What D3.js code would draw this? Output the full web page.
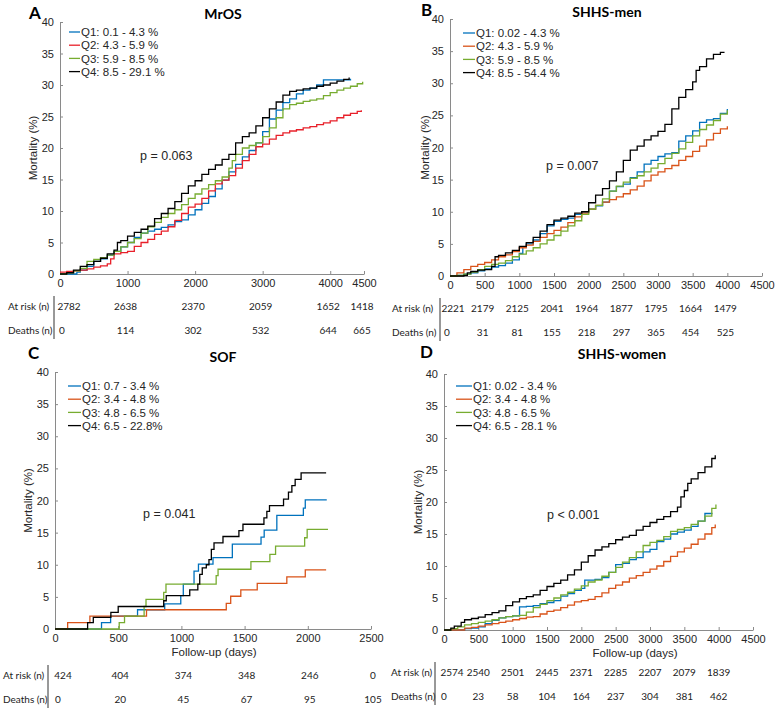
<!DOCTYPE html>
<html>
<head>
<meta charset="utf-8">
<script src="https://cdn.jsdelivr.net/npm/d3@7"></script>
<style>
  body { margin: 0; background: #fff; }
  svg { display: block; }
</style>
</head>
<body>
<svg id="chart" width="780" height="720"></svg>
<script>
// (Num, Num) -> String
const translate = (x, y) => "translate(" + x + "," + y + ")"

// ---- data ----
const letters  = ['A', 'B', 'C', 'D']
const titles   = ['MrOS', 'SHHS-men', 'SOF', 'SHHS-women']
const pValues  = ['p = 0.063', 'p = 0.007', 'p = 0.041', 'p < 0.001']

const legendMrOS      = ['Q1: 0.1 - 4.3 %', 'Q2: 4.3 - 5.9 %', 'Q3: 5.9 - 8.5 %', 'Q4: 8.5 - 29.1 %']
const legendShhsMen   = ['Q1: 0.02 - 4.3 %', 'Q2: 4.3 - 5.9 %', 'Q3: 5.9 - 8.5 %', 'Q4: 8.5 - 54.4 %']
const legendSOF       = ['Q1: 0.7 - 3.4 %', 'Q2: 3.4 - 4.8 %', 'Q3: 4.8 - 6.5 %', 'Q4: 6.5 - 22.8%']
const legendShhsWomen = ['Q1: 0.02 - 3.4 %', 'Q2: 3.4 - 4.8 %', 'Q3: 4.8 - 6.5 %', 'Q4: 6.5 - 28.1 %']

const yTicks      = [0, 5, 10, 15, 20, 25, 30, 35, 40]
const xTicksMrOS  = [0, 1000, 2000, 3000, 4000, 4500]
const xTicksShhs  = [0, 500, 1000, 1500, 2000, 2500, 3000, 3500, 4000, 4500]
const xTicksSOF   = [0, 500, 1000, 1500, 2000, 2500]

// at-risk tables
const tableTimesMrOS  = [0, 1000, 2000, 3000, 4000, 4500]
const tableTimesShhs  = [0, 500, 1000, 1500, 2000, 2500, 3000, 3500, 4000]
const tableTimesSOF   = [0, 500, 1000, 1500, 2000, 2500]
const atRiskMrOS      = [2782, 2638, 2370, 2059, 1652, 1418]
const deathsMrOS      = [0, 114, 302, 532, 644, 665]
const atRiskShhsMen   = [2221, 2179, 2125, 2041, 1964, 1877, 1795, 1664, 1479]
const deathsShhsMen   = [0, 31, 81, 155, 218, 297, 365, 454, 525]
const atRiskSOF       = [424, 404, 374, 348, 246, 0]
const deathsSOF       = [0, 20, 45, 67, 95, 105]
const atRiskShhsWomen = [2574, 2540, 2501, 2445, 2371, 2285, 2207, 2079, 1839]
const deathsShhsWomen = [0, 23, 58, 104, 164, 237, 304, 381, 462]

// cumulative mortality (%) curves: [day, percent]
const mrosQ1 = [[0,0],[200,0],[250,0.3],[300,0.6],[400,1.2],[500,2.0],[600,2.4],[700,3.0],[800,3.6],[900,4.3],[1000,5.0],[1100,5.8],[1200,6.5],[1300,6.8],[1400,7.1],[1500,7.4],[1600,7.8],[1700,8.3],[1800,8.6],[1900,9.4],[2000,10.2],[2100,11.2],[2200,12.3],[2300,13.5],[2400,14.9],[2500,16.2],[2600,17.4],[2700,18.6],[2800,19.6],[2900,20.8],[3000,22.6],[3100,24.6],[3200,26.0],[3300,27.2],[3400,27.8],[3500,28.6],[3600,29.2],[3700,29.5],[3800,30.0],[3900,30.8],[4000,30.8],[4100,30.8],[4200,30.8],[4300,31.0]]
const mrosQ2 = [[0,0.3],[100,0.4],[200,0.5],[300,0.6],[400,0.8],[500,1.1],[600,1.3],[700,1.6],[750,2.4],[800,3.2],[900,3.4],[1000,3.6],[1100,4.4],[1200,5.0],[1300,5.5],[1400,6.3],[1500,6.8],[1600,7.5],[1700,8.5],[1800,9.6],[1900,10.6],[2000,11.1],[2100,12.0],[2200,13.2],[2300,14.3],[2400,14.9],[2500,15.6],[2600,16.8],[2700,18.0],[2800,19.0],[2900,20.2],[3000,20.6],[3100,21.4],[3200,22.0],[3300,22.4],[3400,22.7],[3500,22.9],[3600,23.2],[3700,23.4],[3800,23.7],[3900,24.0],[4000,24.3],[4100,24.8],[4200,25.2],[4300,25.5],[4400,25.8],[4460,26.0]]
const mrosQ3 = [[0,0],[100,0.2],[200,0.5],[300,0.9],[400,2.0],[500,2.3],[600,2.6],[700,3.0],[800,3.6],[900,4.3],[1000,5.0],[1100,5.6],[1200,6.5],[1300,7.5],[1400,8.2],[1500,9.0],[1600,9.6],[1700,10.2],[1800,11.0],[1900,12.0],[2000,12.7],[2100,13.5],[2200,14.2],[2300,14.8],[2400,15.4],[2500,16.8],[2550,18.0],[2600,19.0],[2700,20.0],[2800,20.4],[2900,20.8],[3000,21.8],[3100,23.2],[3200,24.8],[3300,26.2],[3400,26.9],[3500,27.1],[3600,27.4],[3700,27.6],[3800,27.8],[3900,28.3],[4000,28.8],[4100,29.2],[4200,29.5],[4300,29.8],[4400,30.2],[4480,30.5]]
const mrosQ4 = [[0,0],[100,0.2],[200,0.6],[300,1.2],[400,1.5],[500,2.0],[600,2.5],[700,3.2],[800,3.8],[850,5.0],[900,5.3],[1000,6.0],[1100,6.6],[1200,7.1],[1300,7.6],[1400,8.8],[1500,9.6],[1600,10.4],[1700,11.5],[1800,12.8],[1900,14.0],[2000,14.8],[2100,15.8],[2200,16.6],[2300,17.3],[2400,18.2],[2500,19.0],[2600,20.8],[2700,21.8],[2800,22.4],[2900,23.5],[3000,24.8],[3100,26.2],[3200,27.3],[3300,28.4],[3400,29.0],[3500,29.2],[3600,29.4],[3700,29.5],[3800,29.8],[3900,30.0],[4000,30.3],[4100,30.6],[4200,30.9],[4280,31.2]]

const shhsMenQ1 = [[0,0],[100,0.1],[200,0.3],[300,0.5],[400,0.8],[500,1.1],[600,1.4],[700,1.6],[800,2.0],[900,2.5],[1000,3.5],[1050,4.5],[1100,5.0],[1200,5.6],[1300,6.6],[1400,7.8],[1500,8.5],[1600,8.8],[1700,9.0],[1800,9.6],[1900,10.0],[2000,10.4],[2100,10.9],[2200,11.5],[2300,13.2],[2400,13.9],[2500,14.3],[2600,15.3],[2700,16.2],[2800,17.4],[2900,18.0],[3000,18.6],[3100,19.0],[3200,19.2],[3300,21.0],[3400,21.8],[3500,22.6],[3600,23.9],[3700,24.3],[3800,24.5],[3900,25.3],[4000,26.0]]
const shhsMenQ2 = [[0,0],[100,0.5],[200,1.0],[300,1.5],[400,1.8],[500,2.1],[600,2.5],[700,3.0],[800,3.3],[900,3.8],[1000,4.4],[1100,4.8],[1200,5.4],[1300,6.0],[1400,6.6],[1500,7.1],[1600,7.6],[1700,8.3],[1800,9.2],[1900,9.8],[2000,10.4],[2100,11.0],[2200,11.5],[2300,11.9],[2400,12.3],[2500,12.8],[2600,13.4],[2700,14.0],[2800,14.8],[2900,15.7],[3000,16.2],[3100,16.7],[3200,17.2],[3300,18.0],[3400,18.6],[3500,19.4],[3600,20.2],[3700,21.2],[3800,22.2],[3900,22.9],[4000,23.3]]
const shhsMenQ3 = [[0,0],[100,0.1],[200,0.3],[300,0.6],[400,1.0],[500,1.5],[600,1.8],[700,2.0],[800,2.4],[900,3.0],[1000,3.4],[1100,3.9],[1200,4.4],[1300,5.0],[1400,5.6],[1500,6.3],[1600,7.0],[1700,7.8],[1800,8.6],[1900,9.6],[2000,10.4],[2100,11.0],[2200,12.0],[2300,13.2],[2400,14.0],[2500,14.6],[2600,15.2],[2700,15.6],[2800,16.2],[2900,16.8],[3000,17.5],[3100,18.3],[3200,19.1],[3300,19.8],[3400,20.8],[3500,21.8],[3600,22.8],[3700,23.5],[3800,24.2],[3900,25.2],[4000,25.8]]
const shhsMenQ4 = [[0,0],[200,0.1],[250,0.5],[300,0.7],[400,0.9],[500,1.0],[600,1.5],[650,3.0],[700,3.2],[800,3.6],[900,4.0],[1000,4.6],[1100,5.2],[1200,6.0],[1300,7.0],[1400,8.0],[1500,8.7],[1600,9.0],[1700,9.3],[1800,9.8],[1900,10.0],[2000,11.4],[2100,12.6],[2200,13.6],[2300,14.8],[2400,16.2],[2500,18.0],[2600,19.6],[2700,20.2],[2800,21.2],[2900,21.8],[3000,22.5],[3100,23.6],[3200,26.0],[3300,27.8],[3400,29.0],[3500,30.2],[3550,32.0],[3600,32.6],[3700,33.8],[3800,34.5],[3900,34.8],[3950,34.9]]

const sofQ1 = [[0,0],[368,1.0],[440,2.0],[653,3.0],[868,3.9],[995,5.2],[1015,7.0],[1100,9.0],[1135,10.1],[1250,11.1],[1403,13.2],[1630,14.3],[1655,15.4],[1755,17.7],[1965,18.8],[1980,20.1],[2150,20.1]]
const sofQ2 = [[0,0],[100,1.0],[276,2.0],[724,3.0],[1355,4.0],[1390,5.1],[1470,6.1],[1600,7.1],[1834,8.1],[1980,9.2],[2145,9.2]]
const sofQ3 = [[0,0],[508,1.0],[550,2.0],[705,3.5],[720,4.6],[860,5.7],[878,7.0],[1275,8.3],[1290,9.3],[1550,10.5],[1700,11.6],[1745,12.9],[1975,14.2],[1995,15.5],[2160,15.5]]
const sofQ4 = [[0,0],[258,1.0],[303,1.8],[442,2.6],[500,3.5],[860,4.4],[880,5.2],[1066,6.1],[1130,7.0],[1145,8.5],[1165,9.5],[1197,10.0],[1218,10.8],[1237,12.4],[1258,13.4],[1329,14.4],[1455,15.3],[1487,16.3],[1653,17.3],[1676,18.3],[1697,19.2],[1808,20.2],[1847,21.3],[1874,22.3],[1900,23.3],[1947,24.3],[2145,24.3]]

const shhsWomenQ1 = [[0,0],[250,0],[300,0.2],[400,0.3],[500,0.5],[600,1.0],[700,1.5],[800,1.9],[900,2.1],[1000,2.2],[1100,3.6],[1200,3.7],[1300,3.8],[1400,4.1],[1500,4.3],[1600,4.6],[1700,5.3],[1800,5.7],[1900,6.2],[2000,6.5],[2050,7.8],[2100,7.8],[2200,7.9],[2300,8.2],[2400,9.0],[2500,10.2],[2600,10.4],[2700,11.0],[2800,11.3],[2900,12.2],[3000,12.6],[3100,13.8],[3200,14.2],[3300,15.0],[3400,15.3],[3500,15.6],[3600,16.2],[3700,17.0],[3800,18.2],[3910,18.2]]
const shhsWomenQ2 = [[0,0],[200,0],[300,0.3],[400,0.4],[500,0.6],[600,0.8],[700,1.0],[800,1.2],[900,1.4],[1000,1.6],[1100,1.8],[1200,2.0],[1300,2.1],[1400,2.5],[1500,2.9],[1600,3.1],[1700,3.5],[1800,3.9],[1900,4.4],[2000,4.6],[2100,4.8],[2200,5.2],[2300,5.8],[2400,6.5],[2500,7.0],[2600,7.5],[2700,8.1],[2800,8.5],[2900,9.0],[3000,9.5],[3100,10.0],[3200,10.7],[3300,11.5],[3400,12.2],[3500,12.8],[3600,13.4],[3700,14.2],[3800,15.0],[3900,16.0],[3950,16.5]]
const shhsWomenQ3 = [[0,0],[100,0.2],[200,0.5],[300,0.8],[400,1.0],[500,1.2],[600,1.4],[700,1.6],[800,1.9],[900,2.1],[1000,2.2],[1100,2.3],[1200,2.8],[1300,3.5],[1400,4.0],[1500,4.6],[1600,5.0],[1700,5.5],[1800,5.9],[1900,6.4],[2000,6.9],[2100,7.5],[2200,7.8],[2300,8.4],[2400,9.0],[2500,9.8],[2600,10.6],[2700,11.3],[2800,12.2],[2900,13.2],[3000,13.7],[3100,14.0],[3200,14.6],[3300,15.4],[3400,15.7],[3500,16.0],[3600,16.5],[3700,17.0],[3800,17.8],[3900,19.0],[3960,19.6]]
const shhsWomenQ4 = [[0,0],[80,0],[100,0.3],[150,0.6],[250,1.2],[300,1.6],[400,1.8],[500,2.0],[600,2.4],[700,2.7],[800,3.0],[900,3.8],[1000,4.4],[1100,4.9],[1200,5.2],[1300,5.5],[1400,6.2],[1500,6.8],[1600,7.3],[1700,7.8],[1800,8.6],[1900,9.4],[2000,10.6],[2100,11.6],[2200,12.5],[2300,13.0],[2400,13.5],[2500,14.1],[2600,14.5],[2700,14.8],[2800,15.6],[2900,16.2],[3000,16.8],[3100,17.3],[3200,17.7],[3300,18.5],[3400,19.2],[3450,20.8],[3500,21.8],[3550,22.9],[3600,23.6],[3700,24.6],[3800,25.5],[3900,26.8],[3950,27.3]]

// ---- styling ----
const colorsMrOS = ['#0072BD', '#E8202A', '#77AC30', '#000000']
const colorsOther = ['#0072BD', '#D95319', '#77AC30', '#000000']
const axisColor = '#8a8a8a'
const textColor = '#262626'
const plotFont = '"Liberation Sans", Arial, sans-serif'
const tableFont = 'Lato, "Open Sans", sans-serif'

// ---- layout of each panel (pixels) ----
const panels = [
  { i: 0, left: 60,  right: 364, top: 22,  bottom: 274, xMax: 4500, xTicks: xTicksMrOS,
    series: [mrosQ1, mrosQ2, mrosQ3, mrosQ4], colors: colorsMrOS, legend: legendMrOS,
    letterX: 29, letterY: 19, titleX: 223, titleY: 19, yLabelX: 33,
    legendX: 69, legendLen: 11, legendY: 32, pX: 140, pY: 155,
    tableTimes: tableTimesMrOS, atRisk: atRiskMrOS, deaths: deathsMrOS,
    tableDx: -2, riskFirstDx: 9, deathFirstDx: 2,
    labelX: 8, sepX: 54, riskY: 306, deathY: 330, xLabelX: null },
  { i: 1, left: 450, right: 762, top: 19,  bottom: 276, xMax: 4500, xTicks: xTicksShhs,
    series: [shhsMenQ1, shhsMenQ2, shhsMenQ3, shhsMenQ4], colors: colorsOther, legend: legendShhsMen,
    letterX: 421, letterY: 16, titleX: 607, titleY: 17, yLabelX: 425,
    legendX: 463, legendLen: 12, legendY: 33, pX: 546, pY: 165,
    tableTimes: tableTimesShhs, atRisk: atRiskShhsMen, deaths: deathsShhsMen,
    tableDx: -2, riskFirstDx: 3, deathFirstDx: -3,
    labelX: 392, sepX: 440, riskY: 308, deathY: 332, xLabelX: null },
  { i: 2, left: 55,  right: 371, top: 372, bottom: 629, xMax: 2500, xTicks: xTicksSOF,
    series: [sofQ1, sofQ2, sofQ3, sofQ4], colors: colorsOther, legend: legendSOF,
    letterX: 28, letterY: 359, titleX: 223, titleY: 362, yLabelX: 28,
    legendX: 68, legendLen: 13, legendY: 386, pX: 143, pY: 513,
    tableTimes: tableTimesSOF, atRisk: atRiskSOF, deaths: deathsSOF,
    tableDx: 2, riskFirstDx: 8, deathFirstDx: 3,
    labelX: 3, sepX: 48, riskY: 675, deathY: 699, xLabelX: 214 },
  { i: 3, left: 444, right: 753, top: 374, bottom: 630, xMax: 4500, xTicks: xTicksShhs,
    series: [shhsWomenQ1, shhsWomenQ2, shhsWomenQ3, shhsWomenQ4], colors: colorsOther, legend: legendShhsWomen,
    letterX: 420, letterY: 358, titleX: 622, titleY: 359, yLabelX: 418,
    legendX: 456, legendLen: 16, legendY: 386, pX: 547, pY: 514,
    tableTimes: tableTimesShhs, atRisk: atRiskShhsWomen, deaths: deathsShhsWomen,
    tableDx: 0, riskFirstDx: 8, deathFirstDx: 0,
    labelX: 391, sepX: 435, riskY: 672, deathY: 696, xLabelX: 635 }
]

const svg = d3.select('#chart')

const drawPanel = (p) => {
  const x = d3.scaleLinear().domain([0, p.xMax]).range([p.left, p.right])
  const y = d3.scaleLinear().domain([0, 40]).range([p.bottom, p.top])
  const g = svg.append('g')

  // axes, MATLAB style: inward ticks, no box
  const xAxis = g.append('g')
    .attr('transform', translate(0, p.bottom))
    .call(d3.axisBottom(x).tickValues(p.xTicks).tickFormat(d3.format('d'))
      .tickSizeInner(-3).tickSizeOuter(0).tickPadding(5))
  const yAxis = g.append('g')
    .attr('transform', translate(p.left, 0))
    .call(d3.axisLeft(y).tickValues(yTicks).tickFormat(d3.format('d'))
      .tickSizeInner(-3).tickSizeOuter(0).tickPadding(6))
  ;[xAxis, yAxis].forEach(a => {
    a.select('.domain').attr('stroke', axisColor)
    a.selectAll('.tick line').attr('stroke', axisColor)
    a.selectAll('.tick text')
      .attr('fill', textColor)
      .style('font-family', plotFont)
      .style('font-size', '11px')
  })

  g.append('text')
    .attr('transform', translate(p.yLabelX, (p.top + p.bottom) / 2) + ' rotate(-90)')
    .attr('text-anchor', 'middle')
    .attr('dy', '0.35em')
    .attr('fill', textColor)
    .style('font-family', plotFont)
    .style('font-size', '11.5px')
    .text('Mortality (%)')

  if (p.xLabelX !== null) {
    g.append('text')
      .attr('x', p.xLabelX)
      .attr('y', p.bottom + 27)
      .attr('text-anchor', 'middle')
      .attr('fill', textColor)
      .style('font-family', plotFont)
      .style('font-size', '11.5px')
      .text('Follow-up (days)')
  }

  // panel letter and title
  g.append('text')
    .attr('x', p.letterX).attr('y', p.letterY)
    .style('font-family', tableFont).style('font-weight', 'bold').style('font-size', '17px')
    .text(letters[p.i])
  g.append('text')
    .attr('x', p.titleX).attr('y', p.titleY)
    .attr('text-anchor', 'middle')
    .style('font-family', tableFont).style('font-weight', 'bold').style('font-size', '14px')
    .text(titles[p.i])

  // curves
  const line = d3.line()
    .x(d => x(d[0]))
    .y(d => y(d[1]))
    .curve(d3.curveStepAfter)
  g.selectAll('path.curve')
    .data(p.series)
    .enter()
    .append('path')
    .attr('class', 'curve')
    .attr('d', line)
    .attr('fill', 'none')
    .attr('stroke', (d, k) => p.colors[k])
    .attr('stroke-width', 1.3)

  // legend
  const leg = g.selectAll('g.leg')
    .data(p.legend)
    .enter()
    .append('g')
    .attr('transform', (d, k) => translate(p.legendX, p.legendY + k * 13.2))
  leg.append('line')
    .attr('x1', 0).attr('x2', p.legendLen)
    .attr('stroke', (d, k) => p.colors[k])
    .attr('stroke-width', 1.3)
  leg.append('text')
    .attr('x', p.legendLen + 1)
    .attr('dy', '0.36em')
    .attr('fill', textColor)
    .style('font-family', plotFont)
    .style('font-size', '11.5px')
    .text(d => d)

  // p-value
  g.append('text')
    .attr('x', p.pX).attr('y', p.pY)
    .attr('dy', '0.36em')
    .attr('fill', textColor)
    .style('font-family', plotFont)
    .style('font-size', '12.5px')
    .text(pValues[p.i])

  // number-at-risk table
  const rows = [['At risk (n)', p.atRisk, p.riskY, p.riskFirstDx],
                ['Deaths (n)', p.deaths, p.deathY, p.deathFirstDx]]
  rows.forEach(([label, vals, ry, firstDx]) => {
    g.append('text')
      .attr('x', p.labelX).attr('y', ry).attr('dy', '0.35em')
      .attr('fill', '#222')
      .style('font-family', tableFont).style('font-size', '10px')
      .text(label)
    g.selectAll(null)
      .data(vals)
      .enter()
      .append('text')
      .attr('x', (d, k) => x(p.tableTimes[k]) + (k === 0 ? firstDx : p.tableDx))
      .attr('y', ry).attr('dy', '0.35em')
      .attr('text-anchor', 'middle')
      .attr('fill', '#222')
      .style('font-family', tableFont).style('font-size', '10px')
      .text(d => d)
  })
  g.append('line')
    .attr('x1', p.sepX).attr('x2', p.sepX)
    .attr('y1', p.riskY - 10).attr('y2', p.deathY + 9)
    .attr('stroke', '#333')
    .attr('stroke-width', 1)
}

panels.forEach(drawPanel)
</script>
</body>
</html>
